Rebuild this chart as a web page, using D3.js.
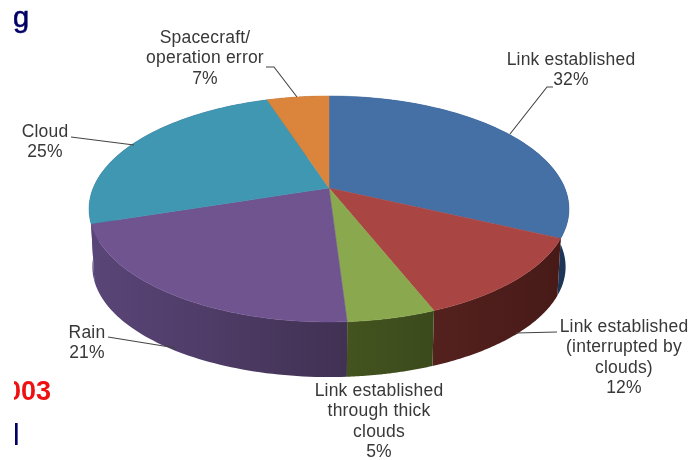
<!DOCTYPE html>
<html>
<head>
<meta charset="utf-8">
<script src="https://cdn.jsdelivr.net/npm/d3@7"></script>
<style>
html,body{margin:0;padding:0;background:#fff}
svg{display:block;filter:blur(0.35px)}
text{font-family:"Liberation Sans",Arial,sans-serif}
</style>
</head>
<body>
<svg id="chart" width="690" height="460"></svg>
<script>
// ---- data ----
const categories = ["Link established", "Link established (interrupted by clouds)",
  "Link established through thick clouds", "Rain", "Cloud", "Spacecraft/operation error"];
const sliceValues = [32, 12, 5, 21, 25, 5];   // size each slice has in the picture
const labelLines = [
  ["Link established", "32%"],
  ["Link established", "(interrupted by", "clouds)", "12%"],
  ["Link established", "through thick", "clouds", "5%"],
  ["Rain", "21%"],
  ["Cloud", "25%"],
  ["Spacecraft/", "operation error", "7%"]
];
const topColors = ["#4470a6", "#a94644", "#8aa84e", "#6f5490", "#3f97b2", "#da843c"];
const wallFrom  = ["#2a4a78", "#54211e", "#43541f", "#5a4578", "#5a4578", "#8a5020"];
const wallTo    = ["#1d3555", "#471a18", "#3b4a1c", "#413153", "#5a4578", "#8a5020"];

// ---- layout ----
const labelPos = [[571,65],[624,332],[379,396],[87,338],[45,137],[205,43]];
const leaders = [
  [[553,87],[547,87],[510,134]],
  [[557,332],[516,333]],
  [],
  [[108,337],[176,348]],
  [[71,137],[134,145]],
  [[266,67],[274,67],[297,97]]
];
const persp = 0.1858;
const svg = d3.select("#chart");
const defs = svg.append("defs");
defs.append("clipPath").attr("id","crop").append("rect")
  .attr("x",14).attr("y",360).attr("width",60).attr("height",50);

// unit circle on the table -> screen, with perspective
const xTop = d3.scaleLinear().domain([-1,1]).range([329-235.8, 329+235.8]);
const yTop = d3.scaleLinear().domain([-1,1]).range([188-109.1, 188+109.1]);
const xBot = d3.scaleLinear().domain([-1,1]).range([329-232.5, 329+232.5]);
const yBot = d3.scaleLinear().domain([-1,1]).range([246.4-106.4, 246.4+106.4]);
function proj(a, xs, ys){
  const u = Math.sin(a), v = -Math.cos(a), w = 1/(1 - persp*v);
  return [xs(u*w), ys(v*w)];
}
const arcs = d3.pie().sort(null)(sliceValues);
const line = d3.line();
const steps = i => d3.range(0,61).map(t => arcs[i].startAngle + (arcs[i].endAngle-arcs[i].startAngle)*t/60);

// walls, back to front
const order = d3.range(arcs.length).sort((a,b)=>
  -Math.cos((arcs[a].startAngle+arcs[a].endAngle)/2) + Math.cos((arcs[b].startAngle+arcs[b].endAngle)/2));
order.forEach(i=>{
  const g = defs.append("linearGradient").attr("id","w"+i);
  g.append("stop").attr("offset","0").attr("stop-color",wallFrom[i]);
  g.append("stop").attr("offset","1").attr("stop-color",wallTo[i]);
  const as = steps(i);
  const pts = as.map(a=>proj(a,xTop,yTop)).concat(as.slice().reverse().map(a=>proj(a,xBot,yBot)));
  svg.append("path").attr("d",line(pts)+"Z").attr("fill",`url(#w${i})`);
});
// top faces
arcs.forEach((d,i)=>{
  const centre = [xTop(0), yTop(0)];
  const pts = [centre].concat(steps(i).map(a=>proj(a,xTop,yTop)));
  svg.append("path").attr("d",line(pts)+"Z").attr("fill",topColors[i])
    .attr("stroke",topColors[i]).attr("stroke-width",0.5).attr("stroke-linejoin","round");
});
// leaders
leaders.forEach(l=>{
  if(l.length) svg.append("path").attr("d",line(l)).attr("fill","none")
    .attr("stroke","#444").attr("stroke-width",1.1);
});
// labels
labelLines.forEach((ls,i)=>{
  const t = svg.append("text").attr("text-anchor","middle").attr("fill","#383838")
    .attr("font-size",17.5).attr("letter-spacing",0.2);
  ls.forEach((s,k)=>t.append("tspan").attr("x",labelPos[i][0]).attr("y",labelPos[i][1]+k*20.4).text(s));
});
// slide fragments around the chart
svg.append("text").attr("x",13).attr("y",27).attr("font-size",29).attr("fill","#000066")
  .attr("stroke","#000066").attr("stroke-width",0.6).text("g");
svg.append("text").attr("x",51).attr("y",400).attr("text-anchor","end").attr("font-size",27)
  .attr("font-weight","bold").attr("fill","#ee1111").attr("clip-path","url(#crop)").text("003");
svg.append("text").attr("x",13).attr("y",445).attr("font-size",30).attr("fill","#000066").text("l");
</script>
</body>
</html>
